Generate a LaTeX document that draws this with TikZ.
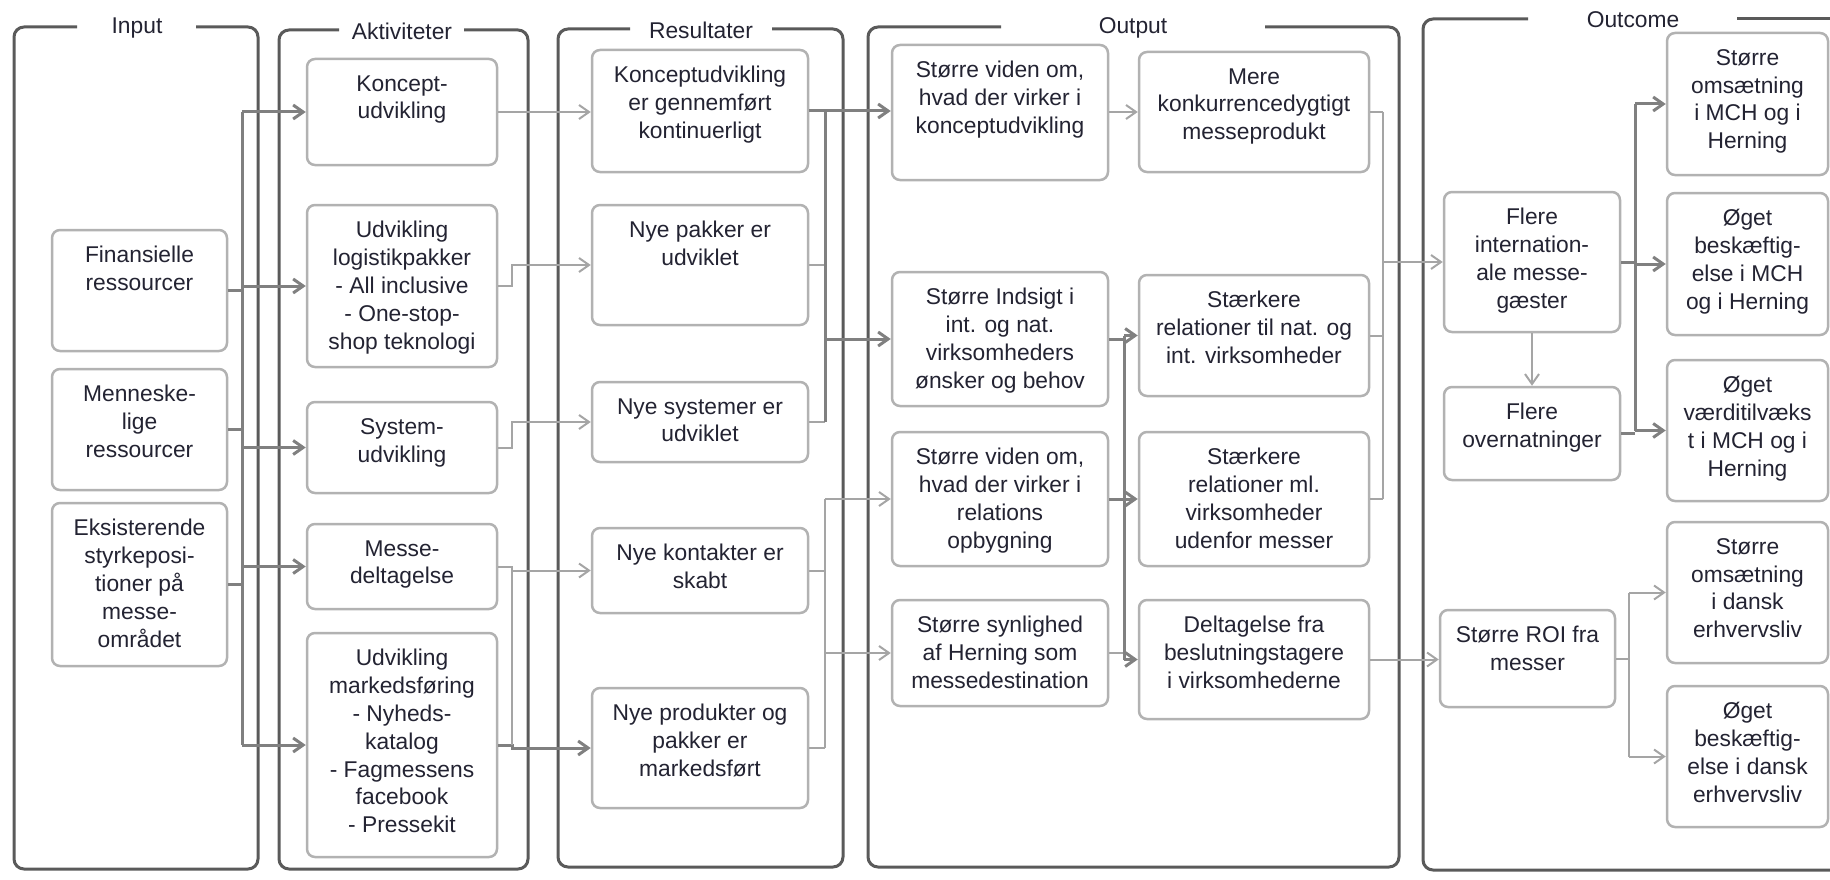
\documentclass[tikz,border=0pt]{standalone}
\usepackage{fontspec}
\setmainfont{Liberation Sans}
\usetikzlibrary{arrows.meta}
\definecolor{framegray}{RGB}{90,90,90}
\definecolor{boxgray}{RGB}{178,178,178}
\definecolor{darkline}{RGB}{128,128,128}
\definecolor{lightline}{RGB}{165,165,165}
\definecolor{textdark}{RGB}{35,35,50}

\begin{document}
\begin{tikzpicture}[x=1pt, y=-1pt,
    font=\fontsize{22.8}{27.8}\selectfont,
    >={Straight Barb[length=10pt,width=14pt]},
    colframe/.style={draw=framegray, line width=3pt, rounded corners=10pt},
    ttl/.style={text=textdark, inner sep=0pt},
    box/.style={draw=boxgray, line width=2.5pt, rounded corners=8pt, fill=white, inner sep=0pt},
    txt/.style={anchor=north, inner sep=0pt, yshift=-17.5pt, align=center, text=textdark},
    thk/.style={draw=darkline, line width=3pt},
    thn/.style={draw=lightline, line width=2pt}]

    \clip (0,0) rectangle (1830,880);

    % column frames
    \draw[colframe] (77,27) -- (14,27) -- (14,869) -- (258,869) -- (258,27) -- (196,27);
    \draw[colframe] (339,30) -- (279,30) -- (279,869) -- (528,869) -- (528,30) -- (464,30);
    \draw[colframe] (630,29) -- (558,29) -- (558,867) -- (843,867) -- (843,29) -- (772,29);
    \draw[colframe] (1001,27) -- (868,27) -- (868,867) -- (1399,867) -- (1399,27) -- (1265,27);
    \draw[colframe] (1528,19) -- (1423,19) -- (1423,870) -- (1850,870);
    \draw[colframe] (1737,19) -- (1850,19);

    \node[ttl] at (137,28) (tinput) {Input};
    \node[ttl] at (402,31) (takt) {Aktiviteter};
    \node[ttl] at (701,30) (tres) {Resultater};
    \node[ttl] at (1133,28) (tout) {Output};
    \node[ttl] at (1633,20) (toutc) {Outcome};

    % input
    \node[box, minimum width=175pt, minimum height=121pt, label={[txt]north:{Finansielle\\ressourcer}}] at (139.5,290.5) (fin) {};
    \node[box, minimum width=175pt, minimum height=121pt, label={[txt]north:{Menneske-\\lige\\ressourcer}}] at (139.5,429.5) (men) {};
    \node[box, minimum width=175pt, minimum height=163pt, label={[txt]north:{Eksisterende\\styrkeposi-\\tioner på\\messe-\\området}}] at (139.5,584.5) (eks) {};

    % aktiviteter
    \node[box, minimum width=190pt, minimum height=106pt, label={[txt]north:{Koncept-\\udvikling}}] at (402,112) (kud) {};
    \node[box, minimum width=190pt, minimum height=162pt, label={[txt]north:{Udvikling\\logistikpakker\\- All inclusive\\- One-stop-\\shop teknologi}}] at (402,286) (ulog) {};
    \node[box, minimum width=190pt, minimum height=91pt, label={[txt]north:{System-\\udvikling}}] at (402,447.5) (sud) {};
    \node[box, minimum width=190pt, minimum height=85pt, label={[txt]north:{Messe-\\deltagelse}}] at (402,566.5) (mes) {};
    \node[box, minimum width=190pt, minimum height=224pt, label={[txt]north:{Udvikling\\markedsføring\\- Nyheds-\\katalog\\- Fagmessens\\facebook\\- Pressekit}}] at (402,745) (umkt) {};

    % resultater
    \node[box, minimum width=216pt, minimum height=122pt, label={[txt]north:{Konceptudvikling\\er gennemført\\kontinuerligt}}] at (700,111) (rkon) {};
    \node[box, minimum width=216pt, minimum height=120pt, label={[txt]north:{Nye pakker er\\udviklet}}] at (700,265) (rpak) {};
    \node[box, minimum width=216pt, minimum height=80pt, label={[txt]north:{Nye systemer er\\udviklet}}] at (700,422) (rsys) {};
    \node[box, minimum width=216pt, minimum height=85pt, label={[txt]north:{Nye kontakter er\\skabt}}] at (700,570.5) (rkont) {};
    \node[box, minimum width=216pt, minimum height=120pt, label={[txt]north:{Nye produkter og\\pakker er\\markedsført}}] at (700,748) (rprod) {};

    % output
    \node[box, minimum width=216pt, minimum height=135pt, label={[txt]north:{Større viden om,\\hvad der virker i\\konceptudvikling}}] at (1000,112.5) (ovk) {};
    \node[box, minimum width=216pt, minimum height=134pt, label={[txt]north:{Større Indsigt i\\int. og nat.\\virksomheders\\ønsker og behov}}] at (1000,339) (oind) {};
    \node[box, minimum width=216pt, minimum height=134pt, label={[txt]north:{Større viden om,\\hvad der virker i\\relations\\opbygning}}] at (1000,499) (ovr) {};
    \node[box, minimum width=216pt, minimum height=106pt, label={[txt]north:{Større synlighed\\af Herning som\\messedestination}}] at (1000,653) (osyn) {};
    \node[box, minimum width=230pt, minimum height=120pt, label={[txt]north:{Mere\\konkurrencedygtigt\\messeprodukt}}] at (1254,112) (omere) {};
    \node[box, minimum width=230pt, minimum height=121pt, label={[txt]north:{Stærkere\\relationer til nat. og\\int. virksomheder}}] at (1254,335.5) (ostk1) {};
    \node[box, minimum width=230pt, minimum height=134pt, label={[txt]north:{Stærkere\\relationer ml.\\virksomheder\\udenfor messer}}] at (1254,499) (ostk2) {};
    \node[box, minimum width=230pt, minimum height=119pt, label={[txt]north:{Deltagelse fra\\beslutningstagere\\i virksomhederne}}] at (1254,659.5) (odel) {};

    % outcome
    \node[box, minimum width=176pt, minimum height=140pt, label={[txt]north:{Flere\\internation-\\ale messe-\\gæster}}] at (1532,262) (fint) {};
    \node[box, minimum width=176pt, minimum height=93pt, label={[txt]north:{Flere\\overnatninger}}] at (1532,433.5) (fovn) {};
    \node[box, minimum width=175pt, minimum height=97pt, label={[txt]north:{Større ROI fra\\messer}}] at (1527.5,658.5) (froi) {};
    \node[box, minimum width=161pt, minimum height=142pt, label={[txt]north:{Større\\omsætning\\i MCH og i\\Herning}}] at (1747.5,104) (oms1) {};
    \node[box, minimum width=161pt, minimum height=142pt, label={[txt]north:{Øget\\beskæftig-\\else i MCH\\og i Herning}}] at (1747.5,264) (bes1) {};
    \node[box, minimum width=161pt, minimum height=141pt, label={[txt]north:{Øget\\værditilvæks\\t i MCH og i\\Herning}}] at (1747.5,430.5) (vae) {};
    \node[box, minimum width=161pt, minimum height=141pt, label={[txt]north:{Større\\omsætning\\i dansk\\erhvervsliv}}] at (1747.5,592.5) (oms2) {};
    \node[box, minimum width=161pt, minimum height=141pt, label={[txt]north:{Øget\\beskæftig-\\else i dansk\\erhvervsliv}}] at (1747.5,756.5) (bes2) {};

    % input -> aktiviteter
    \coordinate (ibt) at (242,112);
    \coordinate (ibb) at (242,745);
    \draw[thk] (ibt) -- (ibb);
    \draw[thk] (fin.east) -- (fin.east -| ibt);
    \draw[thk] (men.east) -- (men.east -| ibt);
    \draw[thk] (eks.east) -- (eks.east -| ibt);
    \draw (ibt) edge[thk, ->] (kud.west);
    \draw (ibt |- ulog.west) edge[thk, ->] (ulog.west);
    \draw (ibt |- sud.west) edge[thk, ->] (sud.west);
    \draw (ibt |- mes.west) edge[thk, ->] (mes.west);
    \draw (ibb) edge[thk, ->] (umkt.west);

    % aktiviteter -> resultater
    \coordinate (ab) at (512,0);
    \draw[thn, ->] (kud.east) -- (kud.east -| rkon.west);
    \draw[thn, ->] (ulog.east) -- (ulog.east -| ab) |- (rpak.west);
    \draw[thn, ->] (sud.east) -- (sud.east -| ab) |- (rsys.west);
    \draw[thn, ->] (mes.east) -- (mes.east -| ab) |- (rkont.west);
    \draw[thk, ->] (umkt.east) -- (umkt.east -| ab) |- (rprod.west);
    \draw[thn] (mes.east -| ab) -- (umkt.east -| ab);

    % resultater -> output
    \coordinate (rb) at (825,0);
    \draw[thn] (rpak.east) -- (rpak.east -| rb);
    \draw[thn] (rsys.east) -- (rsys.east -| rb);
    \draw[thk] (rkon.east -| rb) -- (rsys.east -| rb);
    \draw[thk, ->] (rkon.east) -- (rkon.east -| ovk.west);
    \draw[thk, ->] (rb |- oind.west) -- (oind.west);
    \draw[thn] (rkont.east) -- (rkont.east -| rb);
    \draw[thn] (rprod.east) -- (rprod.east -| rb);
    \draw[thn] (rb |- ovr.west) -- (rprod.east -| rb);
    \draw[thn, ->] (rb |- ovr.west) -- (ovr.west);
    \draw[thn, ->] (rb |- osyn.west) -- (osyn.west);

    % inside output
    \draw[thn, ->] (ovk.east |- omere.west) -- (omere.west);
    \coordinate (ob) at (1124,0);
    \draw[thk] (oind.east) -- (oind.east -| ob);
    \draw[thk] (ovr.east) -- (ovr.east -| ob);
    \draw[thn] (osyn.east) -- (osyn.east -| ob);
    \draw[thk] (ob |- ostk1.west) -- (ob |- odel.west);
    \draw[thk, ->] (ob |- ostk1.west) -- (ostk1.west);
    \draw[thk, ->] (ob |- ostk2.west) -- (ostk2.west);
    \draw[thk, ->] (ob |- odel.west) -- (odel.west);

    % output -> outcome
    \coordinate (qb) at (1383,0);
    \draw[thn] (omere.east) -- (omere.east -| qb);
    \draw[thn] (ostk1.east) -- (ostk1.east -| qb);
    \draw[thn] (ostk2.east) -- (ostk2.east -| qb);
    \draw[thn] (omere.east -| qb) -- (ostk2.east -| qb);
    \draw[thn, ->] (qb |- fint.west) -- (fint.west);
    \draw[thn, ->] (odel.east) -- (odel.east -| froi.west);

    % inside outcome
    \draw[thn, ->] (fint.south) -- (fovn.north);
    \coordinate (cb) at (1635,0);
    \draw[thk] (fint.east) -- (fint.east -| cb);
    \draw[thk] (fovn.east) -- (fovn.east -| cb);
    \draw[thk] (cb |- oms1.west) -- (cb |- vae.west);
    \draw[thk, ->] (cb |- oms1.west) -- (oms1.west);
    \draw[thk, ->] (cb |- bes1.west) -- (bes1.west);
    \draw[thk, ->] (cb |- vae.west) -- (vae.west);
    \coordinate (db) at (1629,0);
    \draw[thn] (froi.east) -- (froi.east -| db);
    \draw[thn] (db |- oms2.west) -- (db |- bes2.west);
    \draw[thn, ->] (db |- oms2.west) -- (oms2.west);
    \draw[thn, ->] (db |- bes2.west) -- (bes2.west);

\end{tikzpicture}
\end{document}
